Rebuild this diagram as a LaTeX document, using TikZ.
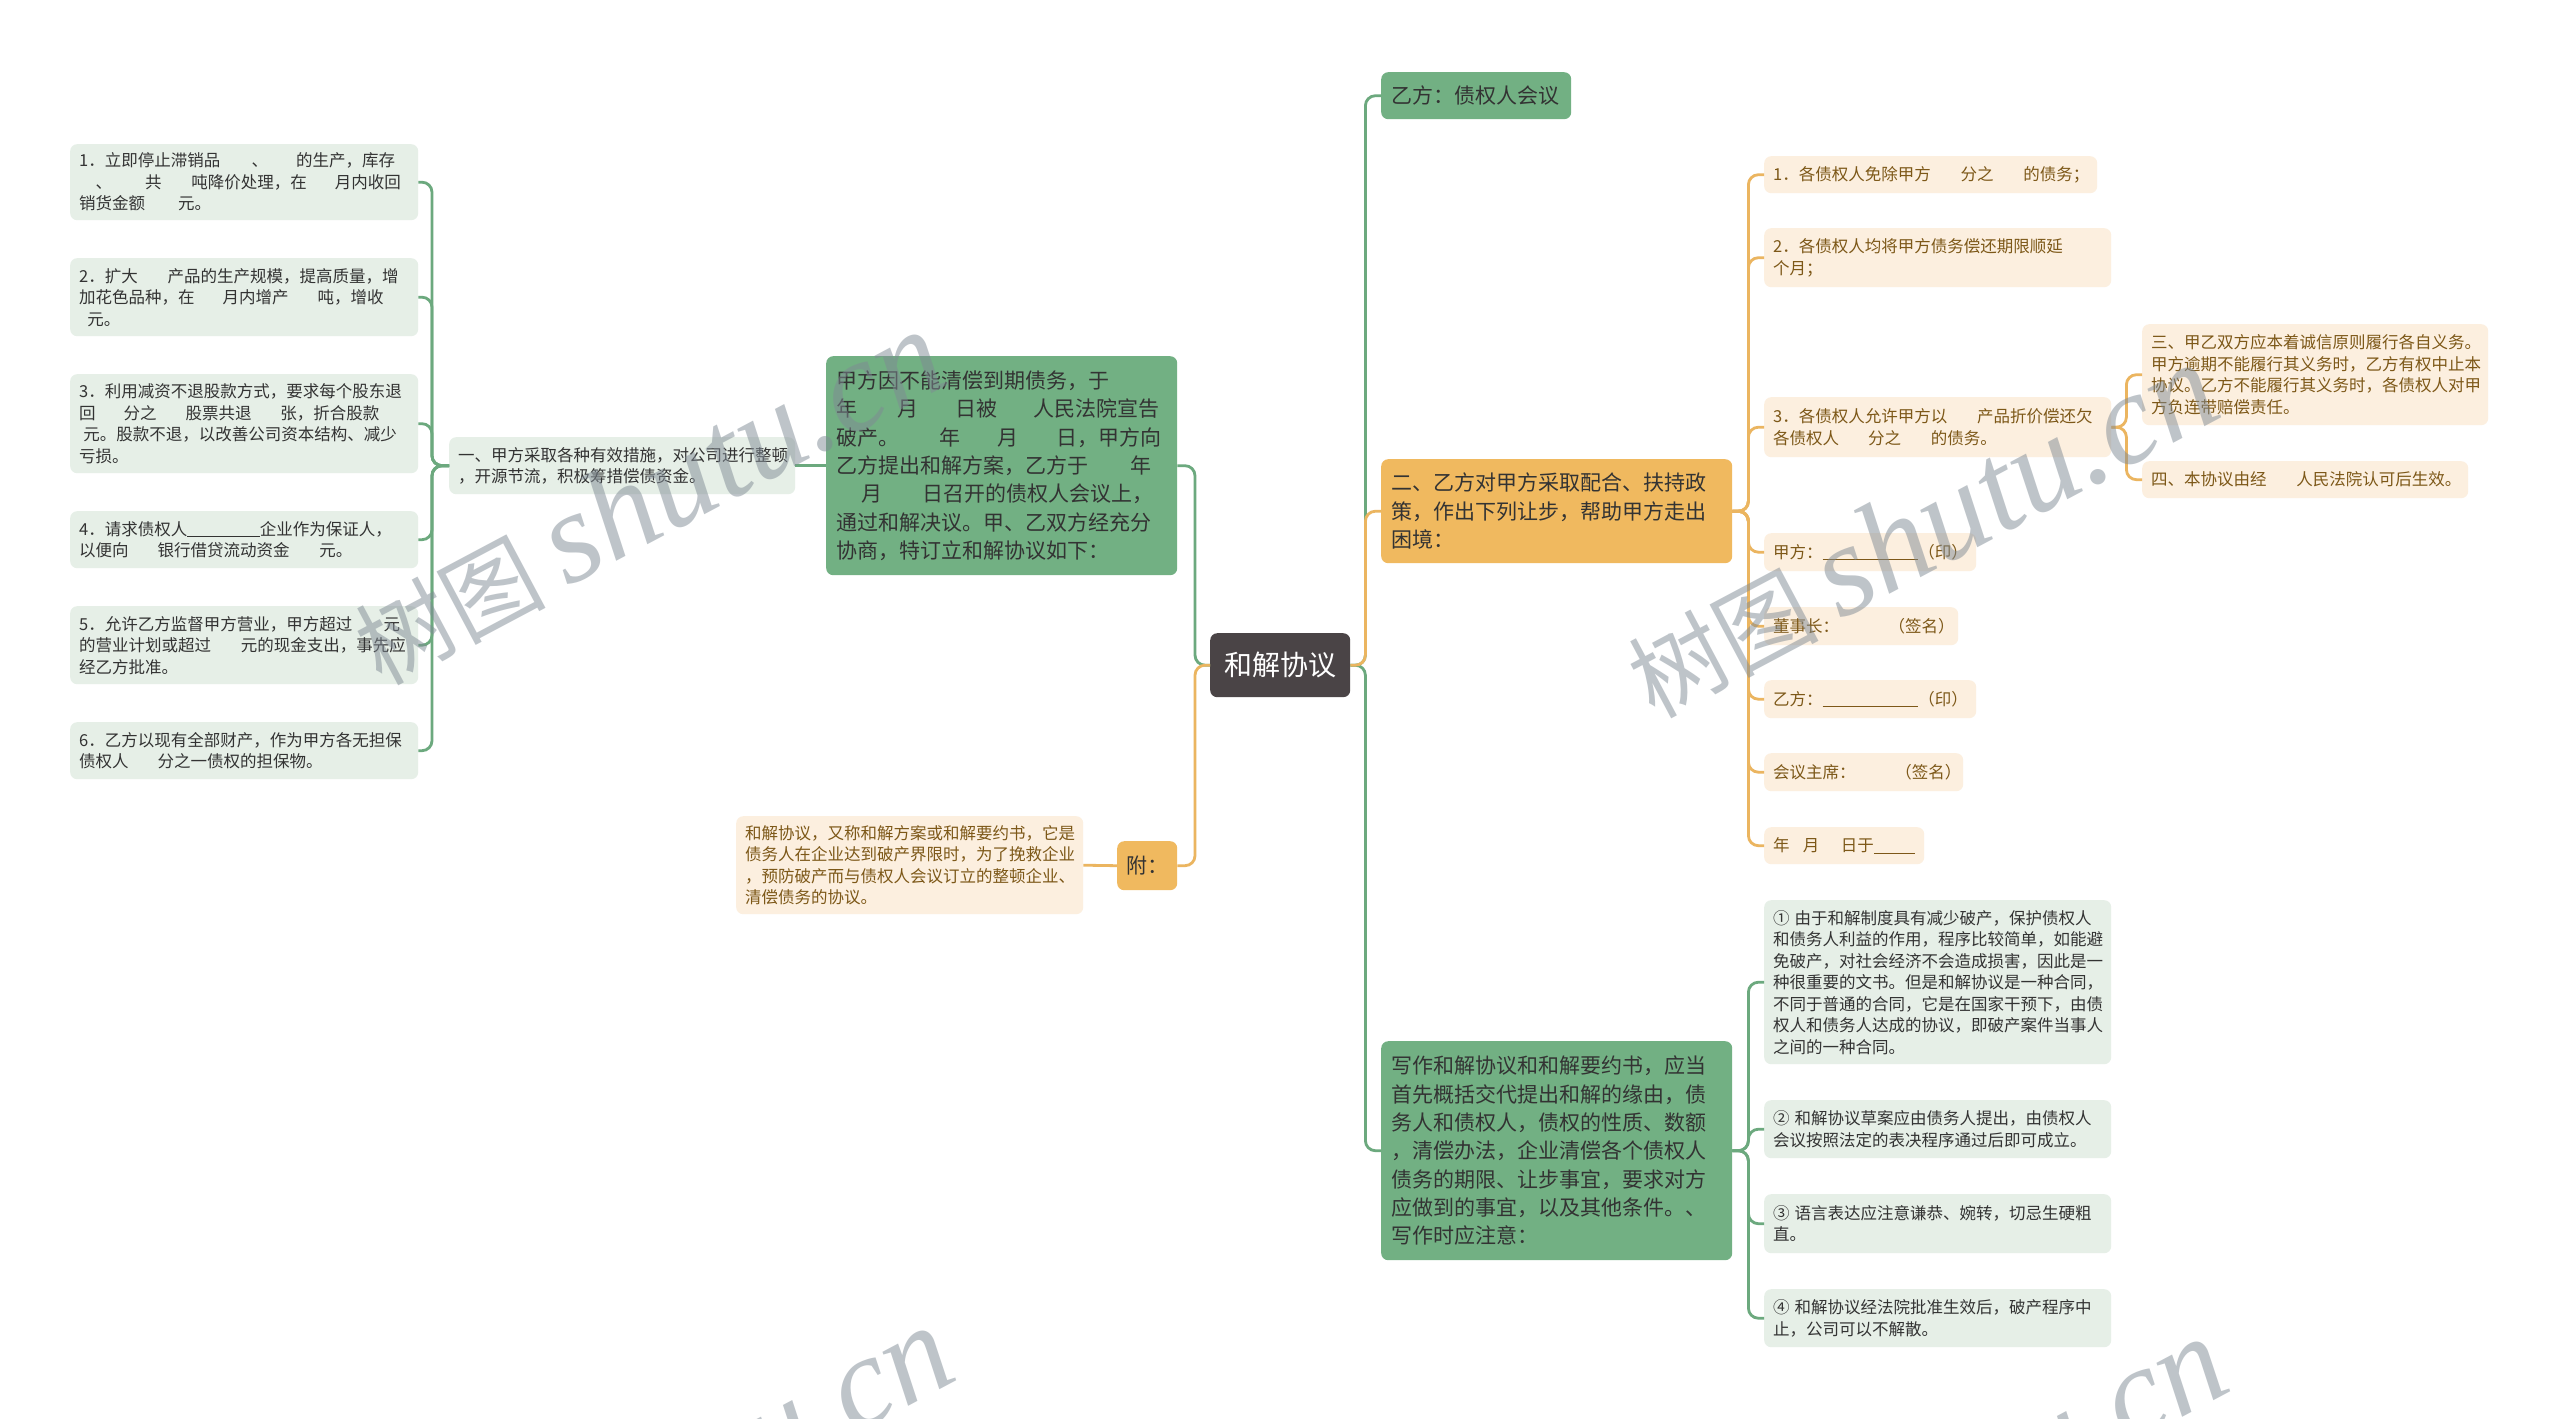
\documentclass[tikz,border=0pt]{standalone}
\usepackage{fontspec}
\setmainfont{Noto Sans CJK SC}
\newfontfamily\wmserif{Liberation Serif}
\newcommand{\gp}[1]{\leavevmode\hbox{}\kern#1em\relax}
\newcommand{\undl}[1]{\rule[-2pt]{#1em}{0.9pt}}
\definecolor{cCtr}{HTML}{4A4446}
\definecolor{cGM}{HTML}{72B083}
\definecolor{cOM}{HTML}{F0B95F}
\definecolor{cGL}{HTML}{E6EFE7}
\definecolor{cOL}{HTML}{FCEFDF}
\definecolor{cGLn}{HTML}{6CA97E}
\definecolor{cOLn}{HTML}{EBB560}
\definecolor{cDT}{HTML}{333333}
\definecolor{cBT}{HTML}{7D5818}
\definecolor{cWM}{HTML}{7F8A94}
\begin{document}
\begin{tikzpicture}[x=1pt,y=-1pt,
  box/.style={anchor=north west, rounded corners=7pt, align=left, inner xsep=9pt, inner ysep=0pt},
  lgbox/.style={box, fill=cGL, text=cDT, font=\fontsize{16.5}{21.5}\selectfont},
  lobox/.style={box, fill=cOL, text=cBT, font=\fontsize{16.5}{21.5}\selectfont},
  gbig/.style={box, fill=cGM, text=cDT, inner xsep=10pt, font=\fontsize{21}{28.3}\selectfont},
  obig/.style={box, fill=cOM, text=cDT, inner xsep=10pt, font=\fontsize{21}{28.3}\selectfont},
  glink/.style={draw=cGLn, line width=2.8pt, rounded corners=10pt},
  olink/.style={draw=cOLn, line width=2.8pt, rounded corners=10pt},
  wm/.style={rotate=28, text=cWM, opacity=0.5, inner sep=0pt},
]
\useasboundingbox (0,0) rectangle (2560,1419);
\fill[white] (0,0) rectangle (2560,1419);

% center
\node[anchor=north west, rounded corners=7pt, fill=cCtr, text=white, minimum width=140pt, minimum height=64pt, inner sep=0pt, font=\fontsize{28}{32}\selectfont] (ctr) at (1210,633) {和解协议};

% left side
\node[gbig, text width=331pt, minimum height=219pt] (jf) at (826,356) {甲方因不能清偿到期债务，于\\年\gp{1.9}月\gp{1.8}日被\gp{1.7}人民法院宣告\\破产。\gp{1.9}年\gp{1.8}月\gp{1.8}日，甲方向\\乙方提出和解方案，乙方于\gp{2}年\\\gp{1.2}月\gp{1.9}日召开的债权人会议上，\\通过和解决议。甲、乙双方经充分\\协商，特订立和解协议如下：};
\node[lgbox, text width=328pt, minimum height=57pt] (yi) at (449,437) {一、甲方采取各种有效措施，对公司进行整顿\\，开源节流，积极筹措偿债资金。};

\node[lgbox, text width=330pt, minimum height=76pt] (c1) at (70,144) {1．立即停止滞销品\gp{1.9}、\gp{1.7}的生产，库存\\\gp{1}、\gp{2}共\gp{1.8}吨降价处理，在\gp{1.7}月内收回\\销货金额\gp{2}元。};
\node[lgbox, text width=330pt, minimum height=78pt] (c2) at (70,258) {2．扩大\gp{1.8}产品的生产规模，提高质量，增\\加花色品种，在\gp{1.7}月内增产\gp{1.75}吨，增收\\\gp{0.5}元。};
\node[lgbox, text width=330pt, minimum height=99pt] (c3) at (70,374) {3．利用减资不退股款方式，要求每个股东退\\回\gp{1.7}分之\gp{1.75}股票共退\gp{1.75}张，折合股款\\\gp{0.25}元。股款不退，以改善公司资本结构、减少\\亏损。};
\node[lgbox, text width=330pt, minimum height=57pt] (c4) at (70,511) {4．请求债权人\undl{4.4}企业作为保证人，\\以便向\gp{1.75}银行借贷流动资金\gp{1.8}元。};
\node[lgbox, text width=330pt, minimum height=78pt] (c5) at (70,606) {5．允许乙方监督甲方营业，甲方超过\gp{1.9}元\\的营业计划或超过\gp{1.8}元的现金支出，事先应\\经乙方批准。};
\node[lgbox, text width=330pt, minimum height=57pt] (c6) at (70,722) {6．乙方以现有全部财产，作为甲方各无担保\\债权人\gp{1.75}分之一债权的担保物。};

\node[anchor=north west, rounded corners=7pt, fill=cOM, text=cDT, minimum width=60pt, minimum height=49pt, inner sep=0pt, font=\fontsize{21}{28}\selectfont] (fu) at (1117,841) {附：};
\node[lobox, text width=329pt, minimum height=98pt] (fut) at (736,816) {和解协议，又称和解方案或和解要约书，它是\\债务人在企业达到破产界限时，为了挽救企业\\，预防破产而与债权人会议订立的整顿企业、\\清偿债务的协议。};

% right side
\node[gbig, text width=170pt, minimum height=47pt] (yf) at (1381,72) {乙方：债权人会议};
\node[obig, text width=331pt, minimum height=104pt] (er) at (1381,459) {二、乙方对甲方采取配合、扶持政\\策，作出下列让步，帮助甲方走出\\困境：};
\node[gbig, text width=331pt, minimum height=219pt] (xz) at (1381,1041) {写作和解协议和和解要约书，应当\\首先概括交代提出和解的缘由，债\\务人和债权人，债权的性质、数额\\，清偿办法，企业清偿各个债权人\\债务的期限、让步事宜，要求对方\\应做到的事宜，以及其他条件。、\\写作时应注意：};

\node[lobox, text width=315pt, minimum height=37pt] (o1) at (1764,156) {1．各债权人免除甲方\gp{1.8}分之\gp{1.8}的债务；};
\node[lobox, text width=329pt, minimum height=59pt] (o2) at (1764,228) {2．各债权人均将甲方债务偿还期限顺延\\个月；};
\node[lobox, text width=329pt, minimum height=60pt] (o3) at (1764,397) {3．各债权人允许甲方以\gp{1.8}产品折价偿还欠\\各债权人\gp{1.75}分之\gp{1.8}的债务。};
\node[lobox, text width=194pt, minimum height=38pt] (o4) at (1764,533) {甲方：\undl{5.8}（印）};
\node[lobox, text width=176pt, minimum height=38pt] (o5) at (1764,607) {董事长：\gp{3}（签名）};
\node[lobox, text width=194pt, minimum height=38pt] (o6) at (1764,680) {乙方：\undl{5.8}（印）};
\node[lobox, text width=181pt, minimum height=38pt] (o7) at (1764,753) {会议主席：\gp{2.4}（签名）};
\node[lobox, text width=142pt, minimum height=37pt] (o8) at (1764,827) {年\gp{0.8}月\gp{1.3}日于\undl{2.5}};

\node[lobox, text width=328pt, minimum height=101pt] (s3) at (2142,324) {三、甲乙双方应本着诚信原则履行各自义务。\\甲方逾期不能履行其义务时，乙方有权中止本\\协议。乙方不能履行其义务时，各债权人对甲\\方负连带赔偿责任。};
\node[lobox, text width=308pt, minimum height=37pt] (s4) at (2142,461) {四、本协议由经\gp{1.8}人民法院认可后生效。};

\node[lgbox, text width=329pt, minimum height=164pt] (g1) at (1764,900) {①\gp{0.3}由于和解制度具有减少破产，保护债权人\\和债务人利益的作用，程序比较简单，如能避\\免破产，对社会经济不会造成损害，因此是一\\种很重要的文书。但是和解协议是一种合同，\\不同于普通的合同，它是在国家干预下，由债\\权人和债务人达成的协议，即破产案件当事人\\之间的一种合同。};
\node[lgbox, text width=329pt, minimum height=58pt] (g2) at (1764,1100) {②\gp{0.3}和解协议草案应由债务人提出，由债权人\\会议按照法定的表决程序通过后即可成立。};
\node[lgbox, text width=329pt, minimum height=59pt] (g3) at (1764,1194) {③\gp{0.3}语言表达应注意谦恭、婉转，切忌生硬粗\\直。};
\node[lgbox, text width=329pt, minimum height=58pt] (g4) at (1764,1289) {④\gp{0.3}和解协议经法院批准生效后，破产程序中\\止，公司可以不解散。};

% connectors
\draw[glink] (ctr.west) -- ++(-15,0) |- (jf.east);
\draw[olink] (ctr.west) -- ++(-15,0) |- (fu.east);
\draw[glink] (jf.west) -- (yi.east);
\foreach \c in {c1,c2,c3,c4,c5,c6} \draw[glink] (yi.west) -- ++(-17,0) |- (\c.east);
\draw[olink] (fu.west) -- (fut.east);

\draw[glink] (ctr.east) -- ++(15,0) |- (yf.west);
\draw[glink] (ctr.east) -- ++(15,0) |- (xz.west);
\draw[olink] (ctr.east) -- ++(15,0) |- (er.west);
\foreach \c in {o1,o2,o3,o4,o5,o6,o7,o8} \draw[olink] (er.east) -- ++(16,0) |- (\c.west);
\draw[olink] (o3.east) -- ++(15,0) |- (s3.west);
\draw[olink] (o3.east) -- ++(15,0) |- (s4.west);
\foreach \c in {g1,g2,g3,g4} \draw[glink] (xz.east) -- ++(16,0) |- (\c.west);

% watermarks
\begin{scope}
\clip (0,0) rectangle (2560,1419);
\node[wm] (wm1) at (648,498) {\fontsize{95}{100}\selectfont 树图\ {\wmserif\itshape\fontsize{130}{130}\selectfont shutu.cn}};
\node[wm] (wm2) at (1921,531) {\fontsize{95}{100}\selectfont 树图\ {\wmserif\itshape\fontsize{130}{130}\selectfont shutu.cn}};
\node[wm] (wm3) at (656,1494) {\fontsize{95}{100}\selectfont 树图\ {\wmserif\itshape\fontsize{130}{130}\selectfont shutu.cn}};
\node[wm] (wm4) at (1930,1505) {\fontsize{95}{100}\selectfont 树图\ {\wmserif\itshape\fontsize{130}{130}\selectfont shutu.cn}};
\end{scope}
\end{tikzpicture}
\end{document}
